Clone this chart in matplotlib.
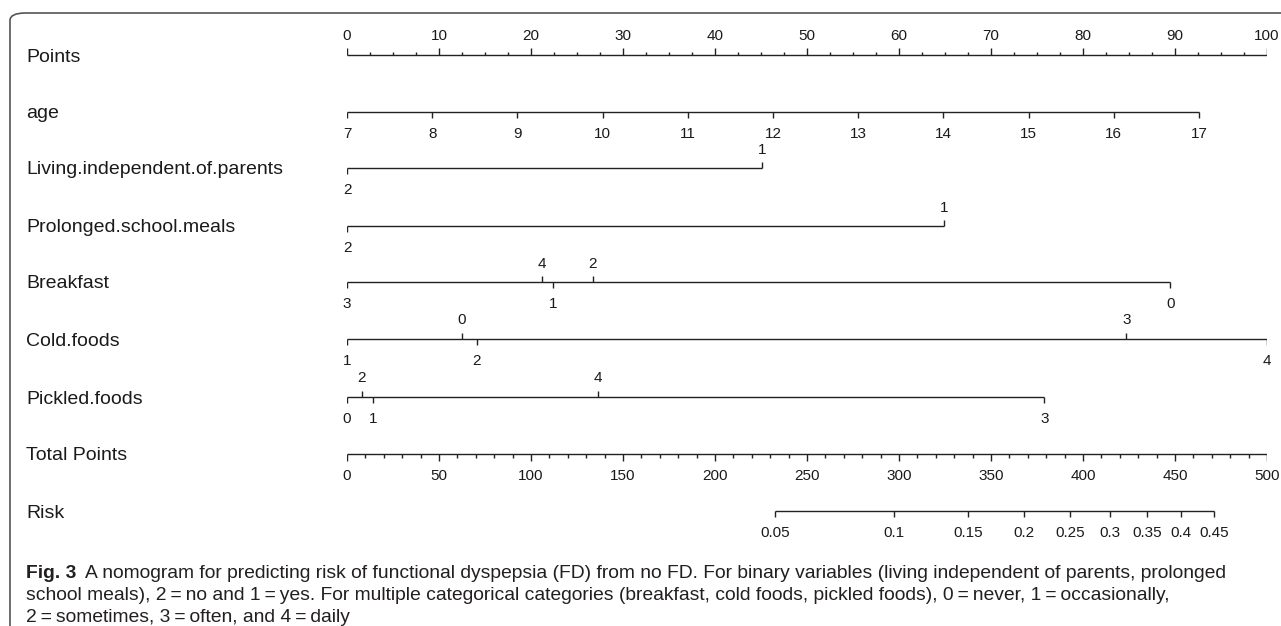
import matplotlib
matplotlib.use("Agg")
import matplotlib.pyplot as plt
import matplotlib.transforms as mtrans
from matplotlib.patches import FancyBboxPatch
from matplotlib import font_manager

# ---- data ----
row_names = ["Points", "age", "Living.independent.of.parents", "Prolonged.school.meals",
             "Breakfast", "Cold.foods", "Pickled.foods", "Total Points", "Risk"]

points_major = list(range(0, 101, 10))
points_minor_step = 2.5

age_values = list(range(7, 18))
age_pts_per_year = 9.26

living_levels = ["2", "1"]
living_points = [0.0, 45.1]
living_side = ["below", "above"]

meals_levels = ["2", "1"]
meals_points = [0.0, 64.9]
meals_side = ["below", "above"]

breakfast_levels = ["3", "4", "1", "2", "0"]
breakfast_points = [0.0, 21.2, 22.4, 26.7, 89.5]
breakfast_side = ["below", "above", "below", "above", "below"]

cold_levels = ["1", "0", "2", "3", "4"]
cold_points = [0.0, 12.5, 14.1, 84.7, 100.0]
cold_side = ["below", "above", "below", "above", "below"]

pickled_levels = ["0", "2", "1", "4", "3"]
pickled_points = [0.0, 1.6, 2.8, 27.3, 75.8]
pickled_side = ["below", "above", "below", "above", "below"]

total_major = list(range(0, 501, 50))
total_minor_step = 10

risk_labels = ["0.05", "0.1", "0.15", "0.2", "0.25", "0.3", "0.35", "0.4", "0.45"]
risk_total_points = [232.6, 297.3, 337.5, 368.0, 393.0, 414.7, 434.8, 453.3, 471.2]

caption_bold = "Fig. 3"
caption_lines = [
    "A nomogram for predicting risk of functional dyspepsia (FD) from no FD. For binary variables (living independent of parents, prolonged",
    "school meals), 2\u2009=\u2009no and 1\u2009=\u2009yes. For multiple categorical categories (breakfast, cold foods, pickled foods), 0\u2009=\u2009never, 1\u2009=\u2009occasionally,",
    "2\u2009=\u2009sometimes, 3\u2009=\u2009often, and 4\u2009=\u2009daily",
]

# ---- layout (pixels) ----
W, H = 1281, 626
row_y = [55, 112, 168, 226, 282, 339, 397, 454, 511]
x0_px, x1_px = 347, 1267
line_color = "#222222"
text_color = "#1a1a1a"
nomo_family = ["Liberation Sans", "DejaVu Sans"]
tick_fs = 11
label_fs = 14

fig = plt.figure(figsize=(W / 100, H / 100), dpi=100)
ax = fig.add_axes([x0_px / W, 0, (x1_px - x0_px) / W, 1])
ax.set_xlim(0, 100)
ax.set_ylim(H, 0)
ax.axis("off")

lab_tr = mtrans.blended_transform_factory(fig.transFigure, ax.transData)


def hline(y, xa, xb):
    ax.plot([xa, xb], [y, y], color=line_color, lw=1.0, solid_capstyle="butt")


def tick(x, y, up, length=6):
    d = -length if up else length
    ax.plot([x, x], [y, y + d], color=line_color, lw=1.0, solid_capstyle="butt")


def tlabel(x, y, s, up):
    yy = y - 14.5 if up else y + 26
    ax.text(x, yy, s, ha="center", va="baseline", fontsize=tick_fs, color=text_color,
            family=nomo_family)


# row labels
for name, y in zip(row_names, row_y):
    ax.text(26 / W, y + 6.5, name, transform=lab_tr, ha="left", va="baseline",
            fontsize=label_fs, color=text_color, family=nomo_family)

# Points axis
y = row_y[0]
hline(y, 0, 100)
n_minor = int(100 / points_minor_step)
for i in range(n_minor + 1):
    v = i * points_minor_step
    tick(v, y, True, 7 if v % 10 == 0 else 3.5)
for v in points_major:
    tlabel(v, y, str(v), True)

# age axis
y = row_y[1]
age_pts = [(a - age_values[0]) * age_pts_per_year for a in age_values]
hline(y, age_pts[0], age_pts[-1])
for a, p in zip(age_values, age_pts):
    tick(p, y, False)
    tlabel(p, y, str(a), False)

# categorical axes
cat_rows = [
    (living_levels, living_points, living_side),
    (meals_levels, meals_points, meals_side),
    (breakfast_levels, breakfast_points, breakfast_side),
    (cold_levels, cold_points, cold_side),
    (pickled_levels, pickled_points, pickled_side),
]
for (levels, pts, sides), y in zip(cat_rows, row_y[2:7]):
    hline(y, min(pts), max(pts))
    for lv, p, s in zip(levels, pts, sides):
        up = s == "above"
        tick(p, y, up)
        tlabel(p, y, lv, up)

# Total points axis
y = row_y[7]
scale = 100 / 500
hline(y, 0, 100)
for v in range(0, 501, total_minor_step):
    tick(v * scale, y, False, 7 if v % 50 == 0 else 3.5)
for v in total_major:
    tlabel(v * scale, y, str(v), False)

# Risk axis
y = row_y[8]
rp = [t * scale for t in risk_total_points]
hline(y, rp[0], rp[-1])
for lab, p in zip(risk_labels, rp):
    tick(p, y, False)
    tlabel(p, y, lab, False)

# frame with rounded top-left corner
frame = FancyBboxPatch((10 / W, -0.2), 1.2, (1 - 13 / H) + 0.2,
                       boxstyle="round,pad=0,rounding_size=0.012",
                       transform=fig.transFigure, fill=False,
                       edgecolor="#555555", lw=1.2, clip_on=False)
fig.add_artist(frame)

# caption
cap_family = ["Liberation Sans Narrow", "DejaVu Sans"]
names = {f.name for f in font_manager.fontManager.ttflist}
if "Liberation Sans Narrow" not in names:
    cap_family = ["Liberation Sans", "DejaVu Sans"]
cap_fs = 13.9
cap_y = [573, 595, 617]
t = fig.text(26 / W, 1 - cap_y[0] / H, caption_bold, fontsize=cap_fs, fontweight="bold",
             family=cap_family, color="#231f20", va="center", ha="left")
fig.canvas.draw()
bb = t.get_window_extent()
fig.text(bb.x1 / W + 9 / W, 1 - cap_y[0] / H, caption_lines[0], fontsize=cap_fs,
         family=cap_family, color="#231f20", va="center", ha="left")
for line, yy in zip(caption_lines[1:], cap_y[1:]):
    fig.text(26 / W, 1 - yy / H, line, fontsize=cap_fs, family=cap_family,
             color="#231f20", va="center", ha="left")

fig.savefig("out.png", dpi=100)
